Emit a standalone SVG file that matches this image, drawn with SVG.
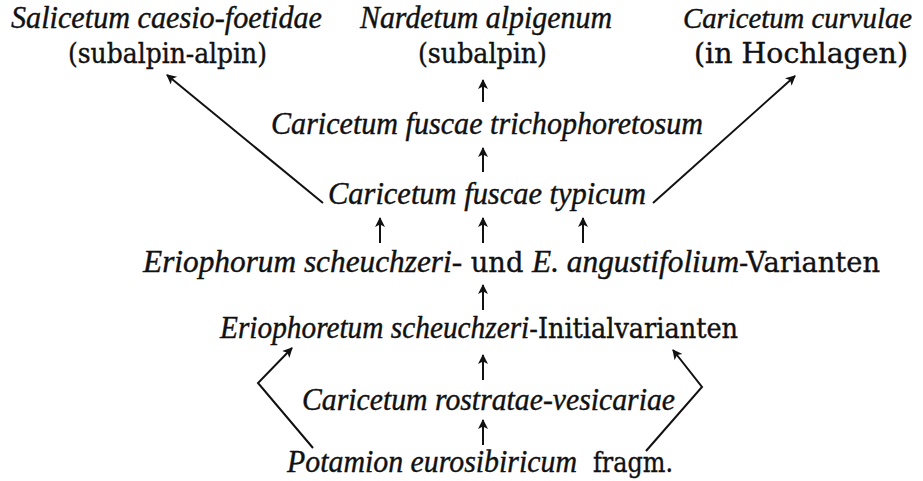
<svg xmlns="http://www.w3.org/2000/svg" width="923" height="481" viewBox="0 0 923 481">
<style>
text{font-family:'Liberation Serif','Times New Roman',serif;font-size:31px;fill:#111;stroke:#111;stroke-width:0.4}
.i{font-style:italic;font-family:'Liberation Serif','Times New Roman',serif;font-size:31px}
.r{font-family:'DejaVu Serif',serif;font-size:27px}
.c line,.c polyline{stroke:#111;stroke-width:2;fill:none}
</style>
<defs>
<marker id="ah" viewBox="0 0 10 10" refX="9" refY="5" markerWidth="12" markerHeight="10" markerUnits="userSpaceOnUse" orient="auto">
<path d="M0,0 L10,5 L0,10 L2.5,5 z" fill="#111"/>
</marker>
</defs>
<rect width="923" height="481" fill="#fff"/>
<g id="n-salicetum"><text class="i" x="11" y="28" textLength="311" lengthAdjust="spacingAndGlyphs">Salicetum caesio-foetidae</text><text class="r" x="68" y="63" textLength="199" lengthAdjust="spacingAndGlyphs">(subalpin-alpin)</text></g>
<g id="n-nardetum"><text class="i" x="360" y="28" textLength="252" lengthAdjust="spacingAndGlyphs">Nardetum alpigenum</text><text class="r" x="418" y="63" textLength="129" lengthAdjust="spacingAndGlyphs">(subalpin)</text></g>
<g id="n-curvulae"><text class="i" x="683" y="28" style="font-size:29px" textLength="229" lengthAdjust="spacingAndGlyphs">Caricetum curvulae</text><text class="r" x="694" y="63" textLength="214" lengthAdjust="spacingAndGlyphs">(in Hochlagen)</text></g>
<g id="n-trichophoretosum"><text class="i" x="271" y="134" textLength="432" lengthAdjust="spacingAndGlyphs">Caricetum fuscae trichophoretosum</text></g>
<g id="n-typicum"><text class="i" x="328" y="204" textLength="318" lengthAdjust="spacingAndGlyphs">Caricetum fuscae typicum</text></g>
<g id="n-eriophorum"><text x="143" y="272" textLength="737" lengthAdjust="spacingAndGlyphs"><tspan class="i">Eriophorum scheuchzeri-</tspan><tspan class="r"> und </tspan><tspan class="i">E. angustifolium</tspan><tspan class="r">-Varianten</tspan></text></g>
<g id="n-eriophoretum"><text x="220" y="338" textLength="518" lengthAdjust="spacingAndGlyphs"><tspan class="i">Eriophoretum scheuchzeri</tspan><tspan class="r">-Initialvarianten</tspan></text></g>
<g id="n-rostratae"><text class="i" x="302" y="410" textLength="373" lengthAdjust="spacingAndGlyphs">Caricetum rostratae-vesicariae</text></g>
<g id="n-potamion"><text class="i" x="287" y="472" textLength="290" lengthAdjust="spacingAndGlyphs">Potamion eurosibiricum</text><text class="r" x="593" y="472" textLength="80" lengthAdjust="spacingAndGlyphs">fragm.</text></g>
<g id="connectors" class="c">
<line x1="483" y1="102" x2="483" y2="80" marker-end="url(#ah)"/>
<line x1="483" y1="172" x2="483" y2="148" marker-end="url(#ah)"/>
<line x1="323" y1="203" x2="167" y2="75" marker-end="url(#ah)"/>
<line x1="653" y1="203" x2="795" y2="76" marker-end="url(#ah)"/>
<line x1="380" y1="243" x2="380" y2="218" marker-end="url(#ah)"/>
<line x1="483" y1="243" x2="483" y2="218" marker-end="url(#ah)"/>
<line x1="583" y1="243" x2="583" y2="218" marker-end="url(#ah)"/>
<line x1="483" y1="310" x2="483" y2="285" marker-end="url(#ah)"/>
<line x1="483" y1="380" x2="483" y2="355" marker-end="url(#ah)"/>
<line x1="483" y1="445" x2="483" y2="420" marker-end="url(#ah)"/>
<polyline points="313,448 258,383 292,348" marker-end="url(#ah)"/>
<polyline points="646,451 702,387 673,350" marker-end="url(#ah)"/>
</g>
</svg>
